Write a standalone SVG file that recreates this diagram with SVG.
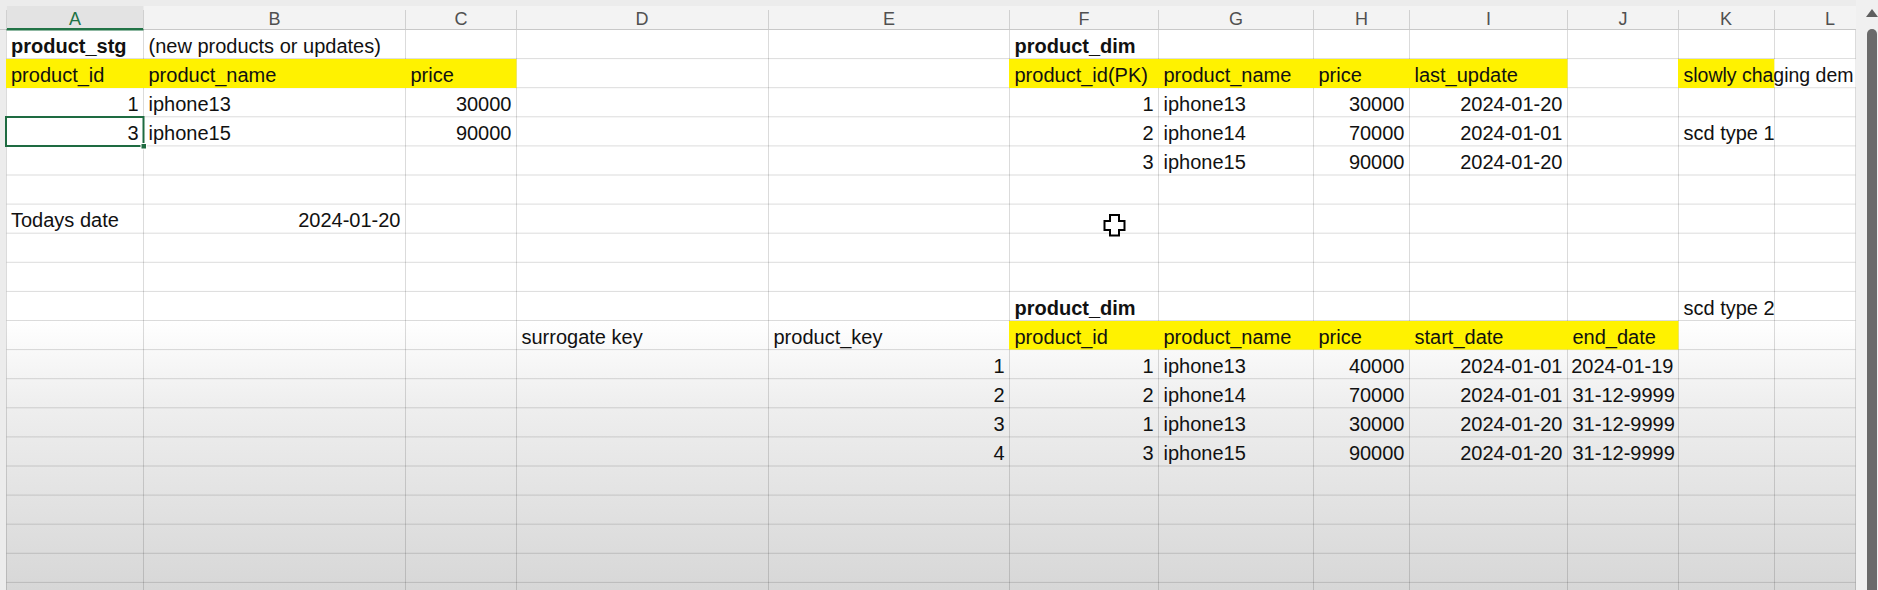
<svg xmlns="http://www.w3.org/2000/svg" width="1878" height="590" viewBox="0 0 1878 590">
  <defs>
    <linearGradient id="shade" x1="0" y1="320" x2="0" y2="590" gradientUnits="userSpaceOnUse">
      <stop offset="0" stop-color="#ffffff"/>
      <stop offset="0.3" stop-color="#efefef"/>
      <stop offset="1" stop-color="#d7d7d7"/>
    </linearGradient>
    <style>
      .cell { font-family: "Liberation Sans", Arial, sans-serif; font-size: 20px; fill: #111111; }
      .b { font-weight: bold; }
      .r { text-anchor: end; }
      .hdr { font-family: "Liberation Sans", Arial, sans-serif; font-size: 18px; fill: #505050; text-anchor: middle; }
      .grid { stroke: #000000; stroke-opacity: 0.14; stroke-width: 1; fill: none; }
      .hsep { stroke: #d0d0d0; stroke-width: 1; }
      .yel { fill: #fff200; }
    </style>
  </defs>

  <!-- background -->
  <rect x="0" y="0" width="1878" height="590" fill="#ffffff"/>
  <rect x="0" y="320" width="1878" height="270" fill="url(#shade)"/>

  <!-- gridlines -->
  <g id="gridlines" class="grid">
    <path d="M6.5 58.6H1855.5M6.5 87.7H1855.5M6.5 116.8H1855.5M6.5 145.9H1855.5M6.5 175H1855.5M6.5 204.1H1855.5M6.5 233.2H1855.5M6.5 262.3H1855.5M6.5 291.4H1855.5M6.5 320.5H1855.5M6.5 349.6H1855.5M6.5 378.7H1855.5M6.5 407.8H1855.5M6.5 436.9H1855.5M6.5 466H1855.5M6.5 495.1H1855.5M6.5 524.2H1855.5M6.5 553.3H1855.5M6.5 582.4H1855.5"/>
    <path d="M6.5 30V590M143.5 30V590M405.5 30V590M516.5 30V590M768.5 30V590M1009.5 30V590M1158.5 30V590M1313.5 30V590M1409.5 30V590M1567.5 30V590M1678.5 30V590M1774.5 30V590M1855.5 30V590"/>
  </g>

  <!-- fills -->
  <g id="fills">
    <rect class="yel" x="6" y="59" width="510.5" height="29"/>
    <rect class="yel" x="1009" y="59" width="558.5" height="29"/>
    <rect class="yel" x="1678" y="59" width="96.5" height="29"/>
    <rect x="1774.5" y="59.1" width="81" height="28.1" fill="#ffffff"/>
    <rect class="yel" x="1009" y="321" width="669.5" height="28.6"/>
  </g>

  <!-- column header row -->
  <g id="column-headers">
    <rect x="0" y="0" width="1878" height="30" fill="#f3f3f3"/>
    <rect x="0" y="0" width="1878" height="6" fill="#ececec"/>
    <rect x="0" y="0" width="6" height="590" fill="#ececec"/>
    <rect x="6.5" y="6" width="137" height="24" fill="#e3e3e3"/>
    <line x1="0" y1="29.5" x2="1856" y2="29.5" stroke="#c8c8c8"/>
    <rect x="6.5" y="28" width="137" height="2.5" fill="#217346"/>
    <path class="hsep" d="M143.5 10V29M405.5 10V29M516.5 10V29M768.5 10V29M1009.5 10V29M1158.5 10V29M1313.5 10V29M1409.5 10V29M1567.5 10V29M1678.5 10V29M1774.5 10V29M6.5 10V29"/>
    <text class="hdr" x="75" y="25" style="fill:#217346">A</text>
    <text class="hdr" x="274.5" y="25">B</text>
    <text class="hdr" x="461" y="25">C</text>
    <text class="hdr" x="642" y="25">D</text>
    <text class="hdr" x="889" y="25">E</text>
    <text class="hdr" x="1084" y="25">F</text>
    <text class="hdr" x="1236" y="25">G</text>
    <text class="hdr" x="1361.5" y="25">H</text>
    <text class="hdr" x="1488.5" y="25">I</text>
    <text class="hdr" x="1623" y="25">J</text>
    <text class="hdr" x="1726" y="25">K</text>
    <text class="hdr" x="1830" y="25">L</text>
  </g>

  <!-- product_stg table -->
  <g id="product-stg">
    <text class="cell b" x="11" y="53">product_stg</text>
    <text class="cell" x="148.5" y="53">(new products or updates)</text>
    <text class="cell" x="11" y="82">product_id</text>
    <text class="cell" x="148.5" y="82">product_name</text>
    <text class="cell" x="410.5" y="82">price</text>
    <text class="cell r" x="138.5" y="111">1</text>
    <text class="cell" x="148.5" y="111">iphone13</text>
    <text class="cell r" x="511.5" y="111">30000</text>
    <text class="cell r" x="138.5" y="140">3</text>
    <text class="cell" x="148.5" y="140">iphone15</text>
    <text class="cell r" x="511.5" y="140">90000</text>
  </g>

  <!-- today's date -->
  <g id="todays-date">
    <text class="cell" x="11" y="227">Todays date</text>
    <text class="cell r" x="400.5" y="227">2024-01-20</text>
  </g>

  <!-- product_dim scd type 1 -->
  <g id="product-dim-scd1">
    <text class="cell b" x="1014.5" y="53">product_dim</text>
    <text class="cell" x="1014.5" y="82">product_id(PK)</text>
    <text class="cell" x="1163.5" y="82">product_name</text>
    <text class="cell" x="1318.5" y="82">price</text>
    <text class="cell" x="1414.5" y="82">last_update</text>
    <text class="cell" x="1683.5" y="82" textLength="170" lengthAdjust="spacingAndGlyphs">slowly chaging dem</text>
    <text class="cell r" x="1153.5" y="111">1</text>
    <text class="cell" x="1163.5" y="111">iphone13</text>
    <text class="cell r" x="1404.5" y="111">30000</text>
    <text class="cell r" x="1562.5" y="111">2024-01-20</text>
    <text class="cell r" x="1153.5" y="140">2</text>
    <text class="cell" x="1163.5" y="140">iphone14</text>
    <text class="cell r" x="1404.5" y="140">70000</text>
    <text class="cell r" x="1562.5" y="140">2024-01-01</text>
    <text class="cell" x="1683.5" y="140">scd type 1</text>
    <text class="cell r" x="1153.5" y="169">3</text>
    <text class="cell" x="1163.5" y="169">iphone15</text>
    <text class="cell r" x="1404.5" y="169">90000</text>
    <text class="cell r" x="1562.5" y="169">2024-01-20</text>
  </g>

  <!-- product_dim scd type 2 -->
  <g id="product-dim-scd2">
    <text class="cell b" x="1014.5" y="315">product_dim</text>
    <text class="cell" x="1683.5" y="315">scd type 2</text>
    <text class="cell" x="521.5" y="344">surrogate key</text>
    <text class="cell" x="773.5" y="344">product_key</text>
    <text class="cell" x="1014.5" y="344">product_id</text>
    <text class="cell" x="1163.5" y="344">product_name</text>
    <text class="cell" x="1318.5" y="344">price</text>
    <text class="cell" x="1414.5" y="344">start_date</text>
    <text class="cell" x="1572.5" y="344">end_date</text>

    <text class="cell r" x="1004.5" y="373">1</text>
    <text class="cell r" x="1153.5" y="373">1</text>
    <text class="cell" x="1163.5" y="373">iphone13</text>
    <text class="cell r" x="1404.5" y="373">40000</text>
    <text class="cell r" x="1562.5" y="373">2024-01-01</text>
    <text class="cell r" x="1673.5" y="373">2024-01-19</text>

    <text class="cell r" x="1004.5" y="402">2</text>
    <text class="cell r" x="1153.5" y="402">2</text>
    <text class="cell" x="1163.5" y="402">iphone14</text>
    <text class="cell r" x="1404.5" y="402">70000</text>
    <text class="cell r" x="1562.5" y="402">2024-01-01</text>
    <text class="cell" x="1572.5" y="402">31-12-9999</text>

    <text class="cell r" x="1004.5" y="431">3</text>
    <text class="cell r" x="1153.5" y="431">1</text>
    <text class="cell" x="1163.5" y="431">iphone13</text>
    <text class="cell r" x="1404.5" y="431">30000</text>
    <text class="cell r" x="1562.5" y="431">2024-01-20</text>
    <text class="cell" x="1572.5" y="431">31-12-9999</text>

    <text class="cell r" x="1004.5" y="460">4</text>
    <text class="cell r" x="1153.5" y="460">3</text>
    <text class="cell" x="1163.5" y="460">iphone15</text>
    <text class="cell r" x="1404.5" y="460">90000</text>
    <text class="cell r" x="1562.5" y="460">2024-01-20</text>
    <text class="cell" x="1572.5" y="460">31-12-9999</text>
  </g>

  <!-- selected cell A4 -->
  <g id="selection">
    <rect x="6" y="117" width="137.5" height="29" fill="none" stroke="#1e6b41" stroke-width="2"/>
    <rect x="141" y="143.5" width="5.5" height="5.5" fill="#1e6b41" stroke="#ffffff" stroke-width="1"/>
  </g>

  <!-- mouse cursor -->
  <g id="cursor">
    <polygon points="1110,215 1119,215 1119,221 1124.5,221 1124.5,230 1119,230 1119,235.5 1110,235.5 1110,230 1104.5,230 1104.5,221 1110,221" fill="#ffffff" stroke="#000000" stroke-width="2"/>
  </g>

  <!-- vertical scrollbar -->
  <g id="scrollbar">
    <rect x="1856" y="0" width="22" height="590" fill="#f0f0f0"/>
    <polygon points="1872,9 1878,17 1866,17" fill="#5f5f5f"/>
    <path d="M1867 590V34a5 5 0 0 1 10 0V590Z" fill="#6a6a6a"/>
  </g>
</svg>
